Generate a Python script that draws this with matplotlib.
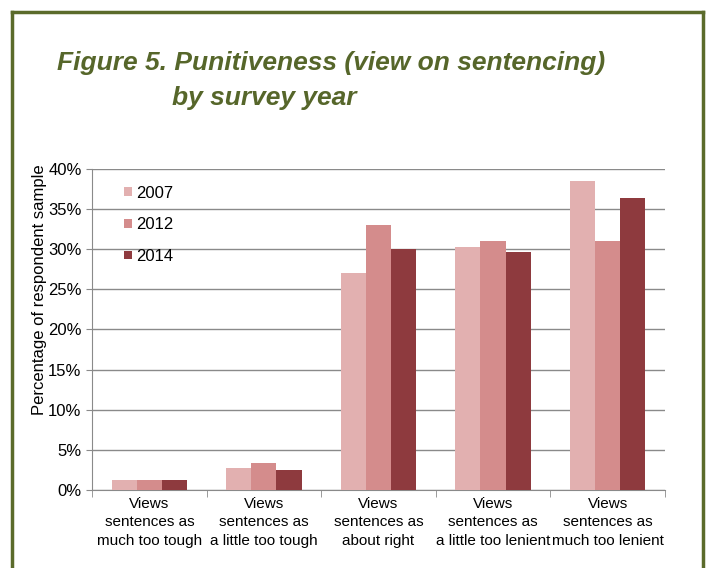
import numpy as np
import matplotlib.pyplot as plt
from matplotlib.lines import Line2D
from matplotlib.ticker import FuncFormatter, FixedLocator

plt.rcParams['font.family'] = ['Liberation Sans', 'DejaVu Sans']

categories = [
    "Views\nsentences as\nmuch too tough",
    "Views\nsentences as\na little too tough",
    "Views\nsentences as\nabout right",
    "Views\nsentences as\na little too lenient",
    "Views\nsentences as\nmuch too lenient",
]
years = ["2007", "2012", "2014"]
v2007 = [1.2, 2.7, 27.0, 30.3, 38.5]
v2012 = [1.2, 3.4, 33.0, 31.0, 31.0]
v2014 = [1.2, 2.5, 30.0, 29.6, 36.4]
colors = ["#e2b0b0", "#d48c8c", "#8e3a3e"]

fig = plt.figure(figsize=(7.09, 5.68), dpi=100)
ax = fig.add_axes([0.1298, 0.1373, 0.808, 0.5652])

# green frame around the figure
green = "#5b6b2b"
fig.add_artist(Line2D([12/709, 12/709], [0, 1 - 12/568], color=green, lw=2.5, transform=fig.transFigure))
fig.add_artist(Line2D([12/709, 703/709], [1 - 12/568, 1 - 12/568], color=green, lw=2.5, transform=fig.transFigure))
fig.add_artist(Line2D([703/709, 703/709], [0, 1 - 12/568], color=green, lw=2.5, transform=fig.transFigure))

fig.text(57/709, 1 - 63/568, "Figure 5. Punitiveness (view on sentencing)",
         fontsize=19, fontweight='bold', style='italic', color="#56662a",
         va='center', ha='left')
fig.text(172/709, 1 - 98/568, "by survey year",
         fontsize=19, fontweight='bold', style='italic', color="#56662a",
         va='center', ha='left')

x = np.arange(len(categories))
w = 0.22
for i, (vals, yr) in enumerate(zip([v2007, v2012, v2014], years)):
    ax.bar(x + (i - 1) * w, vals, width=w, color=colors[i], label=yr, zorder=3)

ax.set_xlim(-0.5, 4.5)
ax.set_ylim(0, 40)
ax.set_yticks(np.arange(0, 41, 5))
ax.yaxis.set_major_formatter(FuncFormatter(lambda v, p: f"{int(v)}%"))
ax.grid(axis='y', color="#8a8a8a", lw=1, zorder=0)
ax.set_axisbelow(True)

ax.set_xticks(x)
ax.set_xticklabels(categories, fontsize=11, linespacing=1.4)
ax.tick_params(axis='x', length=0, pad=5)
ax.xaxis.set_minor_locator(FixedLocator(np.arange(-0.5, 4.6, 1)))
ax.tick_params(axis='x', which='minor', length=5, color="#8a8a8a")
ax.tick_params(axis='y', labelsize=12, length=4, color="#8a8a8a")

for s in ['top', 'right']:
    ax.spines[s].set_visible(False)
ax.spines['left'].set_color("#8a8a8a")
ax.spines['bottom'].set_color("#8a8a8a")

ax.set_ylabel("Percentage of respondent sample", fontsize=12)
ax.yaxis.set_label_coords(-0.078, 0.623)

leg = ax.legend(loc='upper left', bbox_to_anchor=(0.03, 0.995), frameon=False,
                fontsize=12, handlelength=0.45, handleheight=0.45, handletextpad=0.25,
                labelspacing=1.0)

fig.savefig("out.png", dpi=100)
